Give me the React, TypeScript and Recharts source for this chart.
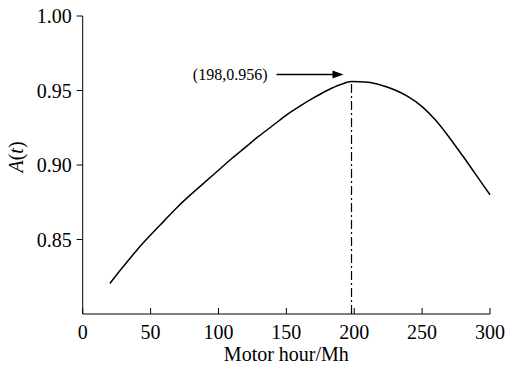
import React from 'react';
import {
  LineChart,
  Line,
  XAxis,
  YAxis,
  ReferenceLine,
  ReferenceDot,
  Label,
} from 'recharts';

const FONT = "'Liberation Serif', 'Times New Roman', Times, serif";

// Motor hours (Mh) and availability A(t)
const hours = [
  20, 30, 40, 50, 60, 70, 80, 90, 100, 110, 120, 130, 140, 150, 160, 170, 180,
  190, 198, 210, 220, 230, 240, 250, 260, 270, 280, 290, 300,
];
const availability = [
  0.8205, 0.832, 0.843, 0.853, 0.8625, 0.872, 0.8805, 0.8885, 0.8965, 0.9045,
  0.912, 0.9195, 0.9265, 0.9335, 0.9395, 0.945, 0.95, 0.954, 0.956, 0.9555,
  0.9535, 0.9503, 0.9457, 0.9392, 0.93, 0.9185, 0.906, 0.893, 0.88,
];

const xTicks = [0, 50, 100, 150, 200, 250, 300];
const yTicks = [0.85, 0.9, 0.95, 1.0];

const peakHour = 198;
const peakValue = 0.956;
const peakLabel = '(198,0.956)';

const data = hours.map((h, i) => ({ hour: h, a: availability[i] }));

const X_TICK_MARGIN = 11;

// x ticks point into the plot, labels sit below the axis
const XTick = (props: any) => {
  const { x, y, payload } = props;
  const axisY = y - X_TICK_MARGIN;
  return (
    <g>
      <line x1={x} x2={x} y1={axisY} y2={axisY - 6} stroke="#000" />
      <text
        x={x}
        y={y}
        dy="0.71em"
        textAnchor="middle"
        fill="#000"
        fontSize={20}
        fontFamily={FONT}
      >
        {payload.value}
      </text>
    </g>
  );
};

const YTitle = ({ viewBox }: any) => {
  const cx = viewBox.x + 16;
  const cy = viewBox.y + viewBox.height / 2 - 8;
  return (
    <text
      x={cx}
      y={cy}
      transform={`rotate(-90 ${cx} ${cy})`}
      textAnchor="middle"
      dominantBaseline="central"
      fill="#000"
      fontSize={20}
      fontFamily={FONT}
    >
      <tspan fontStyle="italic">A</tspan>(<tspan fontStyle="italic">t</tspan>)
    </text>
  );
};

// arrow + coordinate text pointing at the peak
const PeakMarker = (props: any) => {
  const { cx, cy } = props;
  const tipX = cx - 8;
  const tipY = cy - 7;
  return (
    <g>
      <line x1={tipX - 67} x2={tipX - 9} y1={tipY} y2={tipY} stroke="#000" strokeWidth={1.5} />
      <polygon
        points={`${tipX},${tipY} ${tipX - 11},${tipY - 4} ${tipX - 11},${tipY + 4}`}
        fill="#000"
      />
      <text
        x={tipX - 76}
        y={tipY}
        textAnchor="end"
        dominantBaseline="central"
        fill="#000"
        fontSize={16}
        fontFamily={FONT}
      >
        {peakLabel}
      </text>
    </g>
  );
};

export default function App() {
  return (
    <div
      style={{
        position: 'absolute',
        left: 0,
        top: 0,
        width: 506,
        height: 366,
        background: '#fff',
      }}
    >
      <LineChart
        width={506}
        height={366}
        data={data}
        margin={{ top: 16, right: 16, left: 0, bottom: 0 }}
      >
        <XAxis
          dataKey="hour"
          type="number"
          domain={[0, 300]}
          ticks={xTicks}
          height={52}
          tickSize={0}
          tickMargin={X_TICK_MARGIN}
          tickLine={false}
          tick={<XTick />}
          axisLine={{ stroke: '#000' }}
          interval={0}
        >
          <Label
            value="Motor hour/Mh"
            position="insideBottom"
            offset={5}
            fill="#000"
            fontSize={20}
            fontFamily={FONT}
          />
        </XAxis>
        <YAxis
          type="number"
          domain={[0.8, 1.0]}
          ticks={yTicks}
          width={82.7}
          tickSize={6}
          tickMargin={5}
          tickFormatter={(v: number) => v.toFixed(2)}
          tick={{ fill: '#000', fontSize: 20, fontFamily: FONT }}
          tickLine={{ stroke: '#000' }}
          axisLine={{ stroke: '#000' }}
          interval={0}
        >
          <Label content={<YTitle />} />
        </YAxis>
        <ReferenceLine
          segment={[
            { x: peakHour, y: 0.8 },
            { x: peakHour, y: peakValue },
          ]}
          stroke="#000"
          strokeWidth={1.2}
          strokeDasharray="9 3 2 3"
        />
        <Line
          type="monotone"
          dataKey="a"
          stroke="#000"
          strokeWidth={1.5}
          dot={false}
          isAnimationActive={false}
        />
        <ReferenceDot
          x={peakHour}
          y={peakValue}
          r={0}
          shape={<PeakMarker />}
        />
      </LineChart>
    </div>
  );
}
